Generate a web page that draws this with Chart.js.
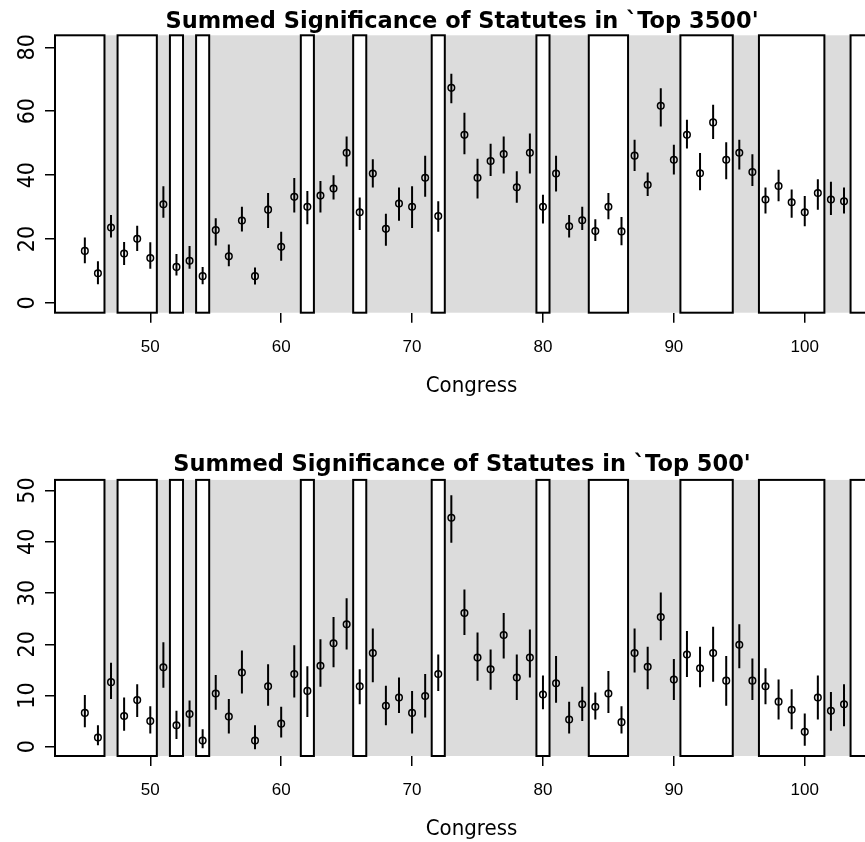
<!DOCTYPE html>
<html>
<head>
<meta charset="utf-8">
<script src="https://cdn.jsdelivr.net/npm/chart.js@4.4.0/dist/chart.umd.min.js"></script>
<style>
  html, body { margin: 0; padding: 0; background: #fff; overflow: hidden; }
  body { width: 865px; height: 842px; position: relative; }
  .panel { position: absolute; left: 0; width: 924px; height: 440px; }
  #topPanel { top: 0; }
  #bottomPanel { top: 420px; }
</style>
</head>
<body>
<div class="panel" id="topPanel"><canvas id="chartTop"></canvas></div>
<div class="panel" id="bottomPanel"><canvas id="chartBottom"></canvas></div>
<script>
// congresses 45..103
const congress = [45, 46, 47, 48, 49, 50, 51, 52, 53, 54, 55, 56, 57, 58, 59, 60, 61, 62, 63, 64,
  65, 66, 67, 68, 69, 70, 71, 72, 73, 74, 75, 76, 77, 78, 79, 80, 81, 82, 83, 84,
  85, 86, 87, 88, 89, 90, 91, 92, 93, 94, 95, 96, 97, 98, 99, 100, 101, 102, 103];

// top 3500: estimate, lower, upper
const sig3500 = [16.3, 9.3, 23.6, 15.5, 20.1, 14.1, 30.9, 11.3, 13.2, 8.4, 22.8, 14.6, 25.8, 8.4, 29.2, 17.6, 33.2, 30.1, 33.6, 35.8,
  47.0, 28.4, 40.5, 23.2, 31.1, 30.1, 39.2, 27.2, 67.3, 52.6, 39.2, 44.4, 46.6, 36.2, 47.0, 30.1, 40.5, 24.0, 25.9, 22.5,
  30.1, 22.4, 46.1, 37.0, 61.7, 44.8, 52.6, 40.6, 56.5, 44.8, 47.0, 41.0, 32.4, 36.6, 31.5, 28.4, 34.4, 32.4, 31.8];
const lo3500 = [12.4, 5.9, 20.5, 11.9, 16.3, 10.7, 26.7, 8.6, 10.7, 5.9, 18.0, 11.5, 22.4, 5.8, 23.5, 13.2, 28.3, 24.6, 28.3, 32.4,
  42.7, 22.8, 36.1, 17.9, 25.7, 23.5, 33.2, 22.3, 62.5, 46.5, 32.7, 39.7, 40.5, 31.4, 40.5, 24.9, 34.9, 20.5, 22.8, 19.4,
  26.2, 18.1, 41.3, 33.5, 55.2, 40.2, 48.3, 35.3, 51.3, 38.7, 41.8, 36.6, 28.0, 31.8, 26.7, 24.0, 29.2, 27.5, 28.0];
const hi3500 = [20.5, 13.1, 27.5, 19.1, 24.2, 19.0, 36.5, 15.3, 17.8, 11.3, 26.5, 18.3, 30.1, 11.1, 34.4, 22.3, 39.1, 35.0, 38.2, 40.0,
  52.1, 33.0, 45.0, 27.9, 36.1, 36.5, 46.1, 31.8, 71.7, 59.5, 45.1, 49.8, 52.1, 41.2, 53.0, 33.9, 46.1, 27.5, 30.1, 26.2,
  34.4, 26.9, 51.1, 40.8, 67.2, 49.5, 57.3, 46.9, 62.0, 50.3, 51.1, 46.5, 36.1, 41.7, 35.5, 33.5, 38.7, 37.9, 36.1];

// top 500: estimate, lower, upper
const sig500 = [6.6, 1.8, 12.6, 6.0, 9.1, 5.0, 15.5, 4.2, 6.4, 1.2, 10.4, 5.9, 14.5, 1.2, 11.8, 4.5, 14.2, 10.9, 15.8, 20.2,
  23.9, 11.8, 18.3, 8.0, 9.6, 6.6, 9.9, 14.2, 44.7, 26.1, 17.4, 15.1, 21.8, 13.5, 17.4, 10.2, 12.4, 5.3, 8.3, 7.8,
  10.4, 4.8, 18.3, 15.6, 25.3, 13.1, 18.0, 15.3, 18.3, 12.9, 19.9, 12.9, 11.8, 8.8, 7.2, 2.9, 9.6, 7.0, 8.3];
const lo500 = [3.8, 0.3, 9.3, 3.1, 5.8, 2.6, 11.5, 1.5, 3.9, -0.3, 7.2, 2.6, 10.4, -0.5, 8.0, 1.8, 9.6, 5.8, 11.7, 15.5,
  19.0, 8.3, 12.6, 4.2, 6.6, 2.6, 5.7, 10.9, 39.8, 21.8, 12.9, 11.1, 17.2, 9.1, 13.5, 7.3, 8.6, 2.6, 5.0, 5.3,
  6.6, 2.6, 14.5, 11.2, 20.8, 9.1, 13.6, 11.6, 12.7, 8.0, 15.3, 9.1, 8.3, 5.3, 3.4, 0.2, 5.3, 3.1, 4.0];
const hi500 = [10.1, 4.2, 16.4, 9.6, 12.2, 7.9, 20.4, 7.0, 9.0, 3.4, 14.0, 9.3, 18.8, 4.2, 16.1, 7.8, 19.8, 15.7, 21.0, 25.3,
  29.0, 15.1, 23.1, 11.9, 13.5, 10.9, 14.2, 18.0, 49.1, 30.7, 22.3, 19.0, 26.1, 18.0, 22.9, 13.9, 17.7, 8.8, 11.7, 10.6,
  14.8, 7.9, 23.1, 19.5, 30.1, 17.1, 22.6, 19.5, 23.4, 17.7, 23.9, 17.2, 15.3, 13.1, 11.2, 6.5, 13.9, 10.7, 12.2];

// white boxes (congress ranges)
const boxStart = [41.5, 47.5, 51.5, 53.5, 61.5, 65.5, 71.5, 79.5, 83.5, 90.5, 96.5, 103.5];
const boxEnd   = [46.5, 50.5, 52.5, 54.5, 62.5, 66.5, 72.5, 80.5, 86.5, 94.5, 101.5, 107.5];

const xTicks = [50, 60, 70, 80, 90, 100];
const yTicks3500 = [0, 20, 40, 60, 80];
const yTicks500 = [0, 10, 20, 30, 40, 50];

const narrow = "'DejaVu Sans Condensed', 'DejaVu Sans', sans-serif";

// gray background + white boxes behind the points
const boxPlugin = {
  id: 'congressBoxes',
  beforeDatasetsDraw(chart) {
    const { ctx, chartArea: a, scales: { x } } = chart;
    ctx.save();
    ctx.fillStyle = '#dcdcdc';
    ctx.fillRect(a.left, a.top, a.right - a.left, a.bottom - a.top);
    ctx.lineWidth = 2;
    ctx.strokeStyle = '#000';
    boxStart.forEach((s, i) => {
      const x0 = Math.max(x.getPixelForValue(s), a.left);
      const x1 = Math.min(x.getPixelForValue(boxEnd[i]), a.right);
      ctx.fillStyle = '#fff';
      ctx.fillRect(x0, a.top, x1 - x0, a.bottom - a.top);
      ctx.strokeRect(x0, a.top, x1 - x0, a.bottom - a.top);
    });
    ctx.restore();
  }
};

function makeChart(id, title, vals, lows, highs, yMin, yMax, yTicks, titlePad, bottomPad) {
  // error bars as one broken line: low, high, gap
  const bars = [];
  congress.forEach((c, i) => {
    bars.push({ x: c, y: lows[i] }, { x: c, y: highs[i] }, { x: c, y: null });
  });
  const pts = congress.map((c, i) => ({ x: c, y: vals[i] }));

  return new Chart(document.getElementById(id), {
    type: 'scatter',
    data: {
      datasets: [
        { data: bars, showLine: true, spanGaps: false, borderColor: '#000', borderWidth: 2, pointRadius: 0 },
        { data: pts, pointRadius: 3.3, borderWidth: 1.5, borderColor: '#000', backgroundColor: 'rgba(0,0,0,0)' }
      ]
    },
    options: {
      responsive: true,
      maintainAspectRatio: false,
      animation: false,
      events: [],
      layout: { padding: { left: 36, right: 36, top: 0, bottom: bottomPad } },
      plugins: {
        legend: { display: false },
        tooltip: { enabled: false },
        title: {
          display: true,
          text: title,
          color: '#000',
          font: { family: "'DejaVu Sans'", weight: 'bold', size: 22.5 },
          padding: titlePad
        }
      },
      scales: {
        x: {
          type: 'linear', min: 42.72, max: 106.36,
          afterBuildTicks: s => { s.ticks = xTicks.map(v => ({ value: v })); },
          afterFit: s => { s.height = 86.9; },
          border: { display: false },
          grid: { drawOnChartArea: false, tickLength: 10, color: '#000', lineWidth: 1.5 },
          ticks: { padding: 14, color: '#000', maxRotation: 0, autoSkip: false, font: { family: "'Liberation Sans'", size: 17 } },
          title: { display: true, text: 'Congress', color: '#000', font: { family: narrow, size: 22 }, padding: { top: 0, bottom: 0 } }
        },
        y: {
          min: yMin, max: yMax,
          afterBuildTicks: s => { s.ticks = yTicks.map(v => ({ value: v })); },
          afterFit: s => { s.width = 19; },
          border: { display: false },
          grid: { drawOnChartArea: false, tickLength: 10, color: '#000', lineWidth: 1.5 },
          ticks: { mirror: true, minRotation: 90, maxRotation: 90, crossAlign: 'center', padding: -40, color: '#000', font: { family: narrow, size: 23 } }
        }
      }
    },
    plugins: [boxPlugin]
  });
}

makeChart('chartTop', "Summed Significance of Statutes in `Top 3500'", sig3500, lo3500, hi3500,
  -3.03, 83.74, yTicks3500, { top: 8.3, bottom: 0 }, 40.4);
makeChart('chartBottom', "Summed Significance of Statutes in `Top 500'", sig500, lo500, hi500,
  -1.81, 52.08, yTicks500, { top: 31.8, bottom: 1.1 }, 17.1);
</script>
</body>
</html>
